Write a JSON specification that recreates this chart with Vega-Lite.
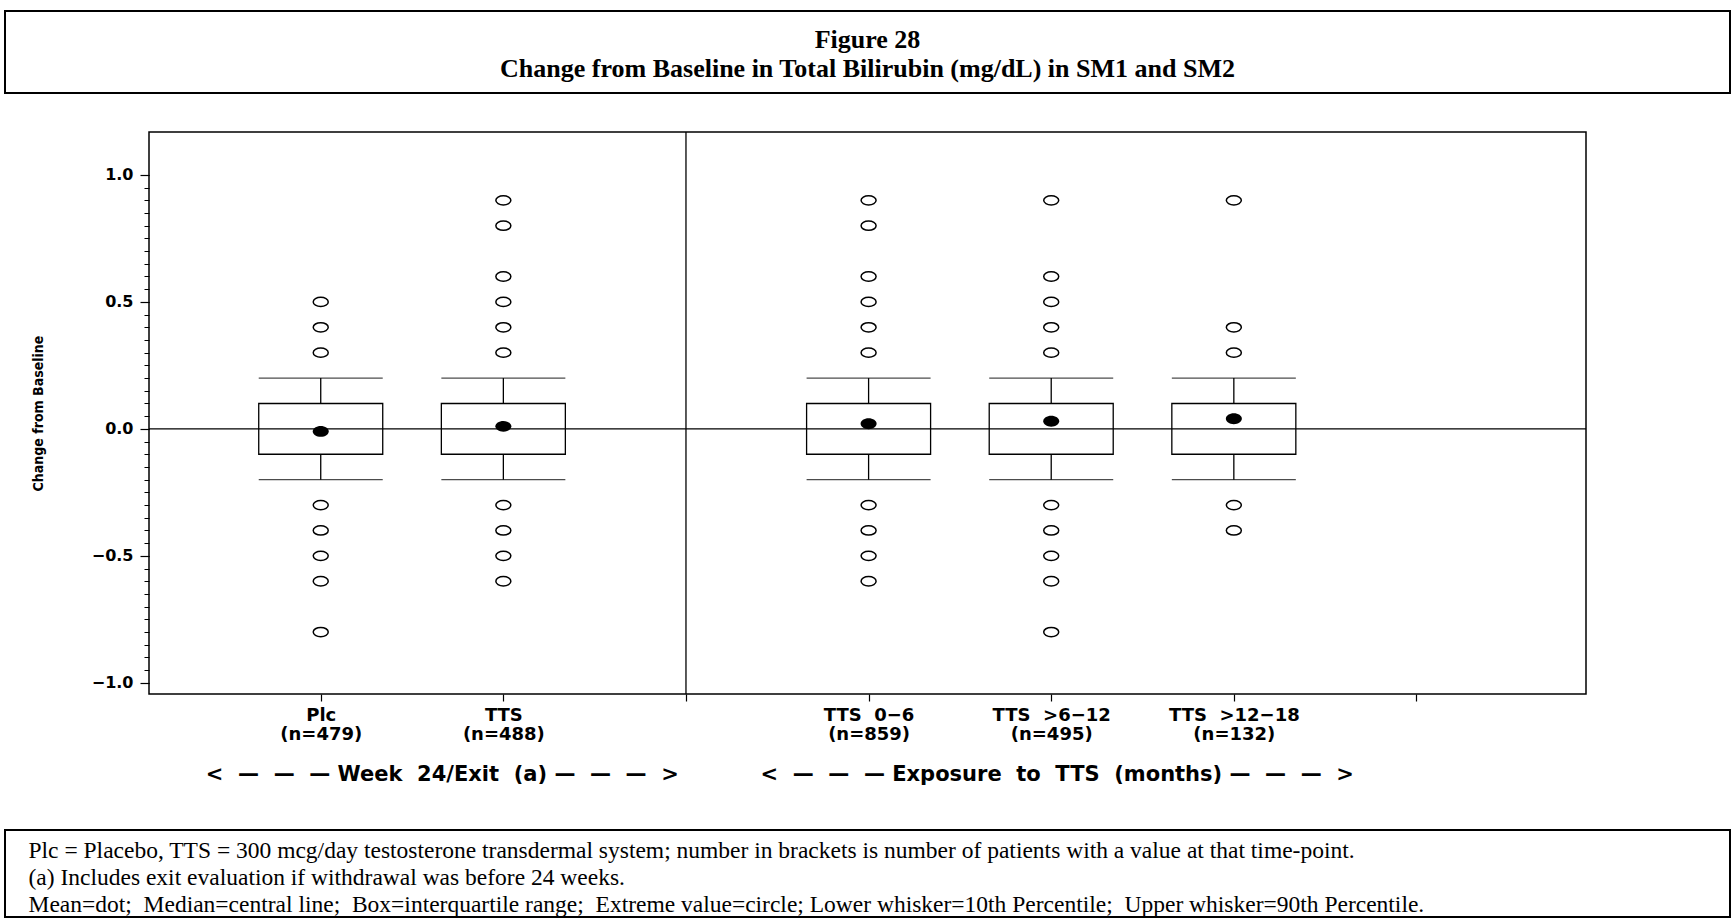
{
  "$schema": "https://vega.github.io/schema/vega-lite/v6.json",
  "background": "white",
  "padding": {"left": 4, "top": 10, "right": 0, "bottom": 0},
  "config": {
    "view": {"stroke": "black", "strokeWidth": 1.5},
    "axis": {"grid": false},
    "font": "DejaVu Sans"
  },
  "datasets": {
    "header": [
      {"line": 1, "text": "Figure 28"},
      {"line": 2, "text": "Change from Baseline in Total Bilirubin (mg/dL) in SM1 and SM2"}
    ],
    "notes": [
      {"text": "Plc = Placebo, TTS = 300 mcg/day testosterone transdermal system; number in brackets is number of patients with a value at that time-point."},
      {"text": "(a) Includes exit evaluation if withdrawal was before 24 weeks."},
      {"text": "Mean=dot;\u00a0 Median=central line;\u00a0 Box=interquartile range;\u00a0 Extreme value=circle; Lower whisker=10th Percentile;\u00a0 Upper whisker=90th Percentile."}
    ],
    "boxes": [
      {"pos": 1, "group": "Plc", "n": 479, "p10": -0.2, "q1": -0.1, "median": 0, "q3": 0.1, "p90": 0.2, "mean": -0.01},
      {"pos": 2, "group": "TTS", "n": 488, "p10": -0.2, "q1": -0.1, "median": 0, "q3": 0.1, "p90": 0.2, "mean": 0.01},
      {"pos": 4, "group": "TTS 0-6", "n": 859, "p10": -0.2, "q1": -0.1, "median": 0, "q3": 0.1, "p90": 0.2, "mean": 0.02},
      {"pos": 5, "group": "TTS >6-12", "n": 495, "p10": -0.2, "q1": -0.1, "median": 0, "q3": 0.1, "p90": 0.2, "mean": 0.03},
      {"pos": 6, "group": "TTS >12-18", "n": 132, "p10": -0.2, "q1": -0.1, "median": 0, "q3": 0.1, "p90": 0.2, "mean": 0.04}
    ],
    "outliers": [
      {"pos": 1, "value": 0.5}, {"pos": 1, "value": 0.4}, {"pos": 1, "value": 0.3},
      {"pos": 1, "value": -0.3}, {"pos": 1, "value": -0.4}, {"pos": 1, "value": -0.5}, {"pos": 1, "value": -0.6}, {"pos": 1, "value": -0.8},
      {"pos": 2, "value": 0.9}, {"pos": 2, "value": 0.8}, {"pos": 2, "value": 0.6}, {"pos": 2, "value": 0.5}, {"pos": 2, "value": 0.4}, {"pos": 2, "value": 0.3},
      {"pos": 2, "value": -0.3}, {"pos": 2, "value": -0.4}, {"pos": 2, "value": -0.5}, {"pos": 2, "value": -0.6},
      {"pos": 4, "value": 0.9}, {"pos": 4, "value": 0.8}, {"pos": 4, "value": 0.6}, {"pos": 4, "value": 0.5}, {"pos": 4, "value": 0.4}, {"pos": 4, "value": 0.3},
      {"pos": 4, "value": -0.3}, {"pos": 4, "value": -0.4}, {"pos": 4, "value": -0.5}, {"pos": 4, "value": -0.6},
      {"pos": 5, "value": 0.9}, {"pos": 5, "value": 0.6}, {"pos": 5, "value": 0.5}, {"pos": 5, "value": 0.4}, {"pos": 5, "value": 0.3},
      {"pos": 5, "value": -0.3}, {"pos": 5, "value": -0.4}, {"pos": 5, "value": -0.5}, {"pos": 5, "value": -0.6}, {"pos": 5, "value": -0.8},
      {"pos": 6, "value": 0.9}, {"pos": 6, "value": 0.4}, {"pos": 6, "value": 0.3},
      {"pos": 6, "value": -0.3}, {"pos": 6, "value": -0.4}
    ],
    "refs": [
      {"divider": 3, "zero": 0}
    ]
  },
  "spacing": 39,
  "bounds": "flush",
  "align": {"row": "none", "column": "all"},
  "center": true,
  "vconcat": [
    {
      "width": 1725,
      "height": 82,
      "view": {"stroke": "black", "strokeWidth": 2},
      "data": {"name": "header"},
      "mark": {"type": "text", "font": "Liberation Serif", "fontWeight": "bold", "fontSize": 26, "color": "black"},
      "encoding": {
        "y": {"field": "line", "type": "ordinal", "axis": null, "scale": {"type": "point", "padding": 0.914, "align": 0.54}},
        "text": {"field": "text"}
      }
    },
    {
      "width": 1437,
      "height": 562,
      "view": {"stroke": "black", "strokeWidth": 1.5},
      "resolve": {"axis": {"x": "independent", "y": "independent"}},
      "layer": [
        {
          "data": {"name": "boxes"},
          "mark": {"type": "rule", "color": "black", "strokeWidth": 1.3},
          "encoding": {
            "x": {"field": "pos", "type": "quantitative", "axis": null, "scale": {"domain": [0.087, 7.901], "nice": false, "zero": false}},
            "y": {"field": "p10", "type": "quantitative", "axis": null, "scale": {"domain": [-1.044, 1.169], "nice": false, "zero": false}},
            "y2": {"field": "p90"}
          }
        },
        {
          "data": {"name": "boxes"},
          "mark": {"type": "bar", "size": 124, "fill": "white", "stroke": "black", "strokeWidth": 1.3},
          "encoding": {
            "x": {
              "field": "pos", "type": "quantitative",
              "scale": {"domain": [0.087, 7.901], "nice": false, "zero": false},
              "axis": {
                "values": [1, 2, 3, 4, 5, 6, 7],
                "labelExpr": "datum.value == 1 ? ['Plc', '(n=479)'] : datum.value == 2 ? ['TTS', '(n=488)'] : datum.value == 4 ? ['TTS\u00a0\u00a00−6', '(n=859)'] : datum.value == 5 ? ['TTS\u00a0\u00a0>6−12', '(n=495)'] : datum.value == 6 ? ['TTS\u00a0\u00a0>12−18', '(n=132)'] : ''",
                "domain": false, "ticks": true, "tickSize": 7, "tickColor": "black", "tickWidth": 1.2,
                "labelFont": "DejaVu Sans", "labelFontWeight": "bold", "labelFontSize": 18, "labelColor": "black",
                "labelPadding": 5, "labelLineHeight": 19, "labelBaseline": "top",
                "labelOverlap": false, "labelFlush": false, "labelLimit": 0, "title": null
              }
            },
            "y": {
              "field": "q1", "type": "quantitative",
              "scale": {"domain": [-1.044, 1.169], "nice": false, "zero": false},
              "axis": {
                "values": [-1, -0.5, 0, 0.5, 1], "format": ".1f",
                "domain": false, "tickSize": 9, "tickColor": "black", "tickWidth": 1.2,
                "labelFont": "DejaVu Sans", "labelFontWeight": "bold", "labelFontSize": 16, "labelColor": "black",
                "labelPadding": 7, "labelFlush": false, "labelOverlap": false,
                "title": "Change from Baseline", "titleFont": "Liberation Sans Narrow, DejaVu Sans Condensed, sans-serif", "titleFontWeight": "bold",
                "titleFontSize": 14, "titleColor": "black", "titlePadding": 46
              }
            },
            "y2": {"field": "q3"}
          }
        },
        {
          "data": {"name": "boxes"},
          "mark": {"type": "tick", "orient": "horizontal", "size": 124, "thickness": 1.3, "color": "black"},
          "encoding": {
            "x": {"field": "pos", "type": "quantitative", "axis": null, "scale": {"domain": [0.087, 7.901], "nice": false, "zero": false}},
            "y": {"field": "p10", "type": "quantitative", "axis": null, "scale": {"domain": [-1.044, 1.169], "nice": false, "zero": false}}
          }
        },
        {
          "data": {"name": "boxes"},
          "mark": {"type": "tick", "orient": "horizontal", "size": 124, "thickness": 1.3, "color": "black"},
          "encoding": {
            "x": {"field": "pos", "type": "quantitative", "axis": null, "scale": {"domain": [0.087, 7.901], "nice": false, "zero": false}},
            "y": {"field": "p90", "type": "quantitative", "axis": null, "scale": {"domain": [-1.044, 1.169], "nice": false, "zero": false}}
          }
        },
        {
          "data": {"name": "refs"},
          "mark": {"type": "rule", "color": "black", "strokeWidth": 1.2},
          "encoding": {
            "y": {
              "field": "zero", "type": "quantitative",
              "scale": {"domain": [-1.044, 1.169], "nice": false, "zero": false},
              "axis": {
                "orient": "left",
                "values": [-1, -0.95, -0.9, -0.85, -0.8, -0.75, -0.7, -0.65, -0.6, -0.55, -0.5, -0.45, -0.4, -0.35, -0.3, -0.25, -0.2, -0.15, -0.1, -0.05, 0, 0.05, 0.1, 0.15, 0.2, 0.25, 0.3, 0.35, 0.4, 0.45, 0.5, 0.55, 0.6, 0.65, 0.7, 0.75, 0.8, 0.85, 0.9, 0.95, 1],
                "labels": false, "domain": false, "tickSize": 5, "tickColor": "black", "tickWidth": 1, "title": null
              }
            }
          }
        },
        {
          "data": {"name": "refs"},
          "mark": {"type": "rule", "color": "black", "strokeWidth": 1.3},
          "encoding": {
            "x": {
              "field": "divider", "type": "quantitative",
              "scale": {"domain": [0.087, 7.901], "nice": false, "zero": false},
              "axis": {
                "orient": "bottom",
                "values": [1.663, 5.03],
                "labelExpr": "datum.value < 3 ? '<\u00a0\u00a0—\u00a0\u00a0—\u00a0\u00a0—\u00a0Week\u00a0\u00a024/Exit\u00a0\u00a0(a)\u00a0—\u00a0\u00a0—\u00a0\u00a0—\u00a0\u00a0>' : '<\u00a0\u00a0—\u00a0\u00a0—\u00a0\u00a0—\u00a0Exposure\u00a0\u00a0to\u00a0\u00a0TTS\u00a0\u00a0(months)\u00a0—\u00a0\u00a0—\u00a0\u00a0—\u00a0\u00a0>'",
                "ticks": false, "tickSize": 0, "domain": false,
                "labelPadding": 80, "labelBaseline": "middle",
                "labelFont": "DejaVu Sans", "labelFontWeight": "bold", "labelFontSize": 21, "labelColor": "black",
                "labelOverlap": false, "labelFlush": false, "labelLimit": 0, "title": null
              }
            }
          }
        },
        {
          "data": {"name": "boxes"},
          "mark": {"type": "point", "shape": "M -1 0 A 1 0.68 0 1 1 1 0 A 1 0.68 0 1 1 -1 0 Z", "size": 256, "filled": true, "color": "black", "opacity": 1},
          "encoding": {
            "x": {"field": "pos", "type": "quantitative", "axis": null, "scale": {"domain": [0.087, 7.901], "nice": false, "zero": false}},
            "y": {"field": "mean", "type": "quantitative", "axis": null, "scale": {"domain": [-1.044, 1.169], "nice": false, "zero": false}}
          }
        },
        {
          "data": {"name": "outliers"},
          "mark": {"type": "point", "shape": "M -1 0 A 1 0.62 0 1 1 1 0 A 1 0.62 0 1 1 -1 0 Z", "size": 225, "filled": false, "color": "black", "strokeWidth": 1.5, "opacity": 1},
          "encoding": {
            "x": {"field": "pos", "type": "quantitative", "axis": null, "scale": {"domain": [0.087, 7.901], "nice": false, "zero": false}},
            "y": {"field": "value", "type": "quantitative", "axis": null, "scale": {"domain": [-1.044, 1.169], "nice": false, "zero": false}}
          }
        }
      ]
    },
    {
      "width": 10,
      "height": 58,
      "view": {"stroke": null},
      "data": {"values": [{"blank": ""}]},
      "mark": {"type": "text", "text": ""}
    },
    {
      "width": 1725,
      "height": 87,
      "view": {"stroke": "black", "strokeWidth": 2},
      "data": {"name": "notes"},
      "mark": {"type": "text", "text": ""},
      "encoding": {
        "y": {
          "field": "text", "type": "ordinal", "sort": null,
          "scale": {"type": "point", "padding": 0.61, "align": 0.62},
          "axis": {
            "orient": "left", "domain": false, "ticks": false, "tickSize": 0,
            "labelAlign": "left", "labelPadding": -23, "labelBaseline": "middle",
            "labelFont": "Liberation Serif", "labelFontSize": 23.5, "labelColor": "black",
            "labelLimit": 0, "labelOverlap": false, "title": null
          }
        }
      }
    }
  ]
}
